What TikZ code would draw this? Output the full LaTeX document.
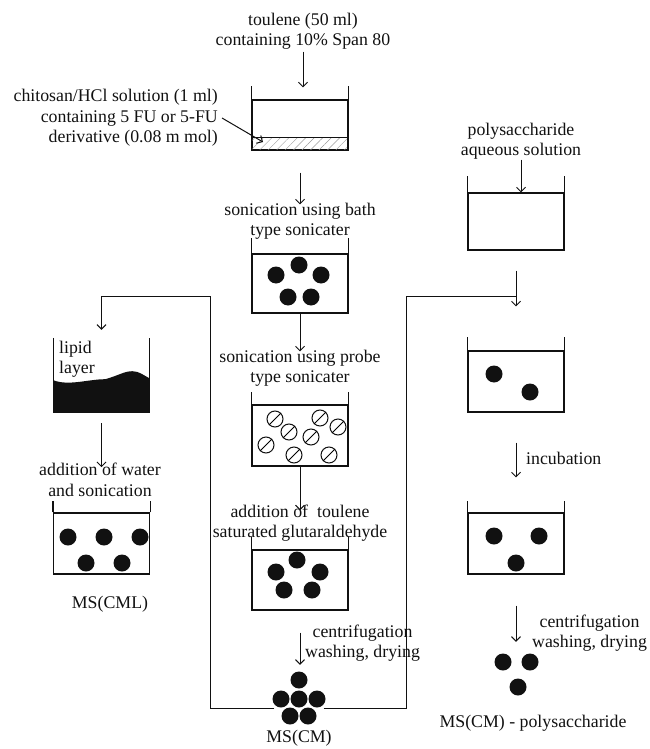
\documentclass[tikz,border=0pt]{standalone}
\usepackage{fontspec}
\setmainfont{Liberation Serif}
\usepackage{tikz}
\usepackage{xcolor}
\usetikzlibrary{arrows.meta,positioning,calc,patterns.meta}
\definecolor{ink}{HTML}{111111}
\definecolor{hatch}{HTML}{9A9A9A}
\tikzset{
  proc/.style={
    font=\fontsize{17.8}{20.5}\selectfont, text=ink,
    align=center, inner sep=0pt
  },
  tank/.style={
    draw=ink, line width=1.1pt, inner sep=0pt,
    minimum width=96pt
  },
  wall/.style={draw=ink, line width=1.1pt},
  bead/.style={circle, fill=ink, inner sep=0pt, minimum size=17pt},
  droplet/.style={circle, draw=ink, line width=1pt, inner sep=0pt, minimum size=16pt},
  flow/.style={draw=ink, line width=1pt, ->},
  heap/.style={inner sep=0pt, minimum width=57pt, minimum height=54pt}
}
\newcommand\tankrim[2]{\draw[wall] (#1.north west) -- ++(0,-#2) (#1.north east) -- ++(0,-#2);}

\begin{document}
\begin{tikzpicture}[x=1pt,y=-1pt,>={Straight Barb[length=4.5pt,width=9pt]}]
  \useasboundingbox (0,0) rectangle (649,749);
  % centre column
  \node[proc] (tol) at (303,31) {toulene (50 ml)\\containing 10\% Span 80};
  \node[tank,minimum height=50pt] (b1) at (300,125) {};
  \tankrim{b1}{13}
  \draw[wall,pattern={Lines[angle=45,distance=6pt,line width=0.4pt]},pattern color=hatch]
    (b1.south west) rectangle ++(96,-13);
  \node[proc,anchor=east,align=right] (chi) at (218,118)
    {chitosan/HCl solution (1 ml)\\containing 5 FU or 5-FU\\derivative (0.08 m mol)};
  \coordinate (layer) at (263,142);
  \draw[flow] ([xshift=4pt]chi.east) -- (layer);
  \draw[flow,shorten <=2pt,shorten >=12pt] (tol.south) -- (tol.south |- b1.north);

  \node[proc] (bath) at (300,221) {sonication using bath\\type sonicater};
  \draw[flow,shorten <=22pt,shorten >=-2pt] (b1.south) -- (bath.north);
  \node[tank,minimum height=59pt] (b2) at (300,283.5) {};
  \tankrim{b2}{15}
  \foreach \x/\y [count=\i] in {276/275,299/265,321/275,288/297,311/297}
    \node[bead] (b2d\i) at (\x,\y) {};

  \node[proc] (probe) at (300,368) {sonication using probe\\type sonicater};
  \draw[flow,shorten >=-2pt] (b2.south) -- (probe.north);
  \node[tank,minimum height=61pt] (b3) at (300,435.5) {};
  \tankrim{b3}{12}
  \foreach \x/\y [count=\i] in {275/419,289/432,320/418,338/427,311/437,266/445,294/455,329/455} {
    \node[droplet] (e\i) at (\x,\y) {};
    \draw[line width=1pt] (e\i.south west) -- (e\i.north east);
  }

  \node[proc] (glut) at (300,523) {addition of\ \ toulene\\saturated glutaraldehyde};
  \draw[flow,shorten >=-6pt] (b3.south) -- (glut.north);
  \node[tank,minimum height=60pt] (b4) at (300,580) {};
  \tankrim{b4}{12}
  \foreach \x/\y [count=\i] in {297/560,276/572,320/572,284/590,312/590}
    \node[bead] (b4d\i) at (\x,\y) {};

  \node[heap] (cm) at (299,698) {};
  \foreach \x/\y [count=\i] in {299/680,281/699,299/699,317/699,290/716,308/716}
    \node[bead] (cmd\i) at (\x,\y) {};
  \draw[flow,shorten <=22pt,shorten >=6pt] (b4.south) -- (b4.south |- cm.north);
  \node[proc,anchor=west] (cent1) at (305,643) {centrifugation\\washing, drying};
  \node[proc] (mscm) at (299,738) {MS(CM)};

  % left column
  \node[inner sep=0pt,minimum width=96pt,minimum height=74pt] (lip) at (101.5,375) {};
  \fill[ink] (lip.south west) -- ++(0,-32)
    .. controls ++(15,6) and ++(-17,0) .. ++(52,-1)
    .. controls ++(14,-4) and ++(-8,0) .. ++(27,-8)
    .. controls ++(7,0) and ++(-6,-3) .. ++(17,7)
    |- (lip.south west) -- cycle;
  \draw[wall] (lip.north west) -- (lip.south west) -- (lip.south east) -- (lip.north east);
  \node[proc,anchor=west,align=left] (lipid) at (59,359) {lipid\\layer};
  \node[proc] (water) at (100,480) {addition of water\\and sonication};
  \draw[flow,shorten <=11pt,shorten >=-4pt] (lip.south) -- (lip.south |- water.north);
  \node[tank,minimum height=61pt] (b6) at (101.5,543.5) {};
  \tankrim{b6}{11}
  \foreach \x/\y [count=\i] in {68/537,104/537,140/537,86/563,122/563}
    \node[bead] (b6d\i) at (\x,\y) {};
  \node[proc] (mscml) at (110,604) {MS(CML)};

  % right column
  \node[proc] (poly) at (521,141) {polysaccharide\\aqueous solution};
  \node[tank,minimum height=57pt] (p1) at (516,221.5) {};
  \tankrim{p1}{16}
  \draw[flow] (poly.south) -- (poly.south |- p1.north);
  \node[tank,minimum height=61pt] (p2) at (516,381.5) {};
  \tankrim{p2}{13}
  \foreach \x/\y [count=\i] in {494/374,530/392}
    \node[bead] (p2d\i) at (\x,\y) {};
  \draw[flow,shorten <=20pt,shorten >=44pt] (p1.south) -- (p2.north);
  \node[tank,minimum height=61pt] (p3) at (516,543.5) {};
  \tankrim{p3}{11}
  \foreach \x/\y [count=\i] in {494/536,539/536,516/563}
    \node[bead] (p3d\i) at (\x,\y) {};
  \draw[flow,shorten <=30pt,shorten >=35pt] (p2.south) -- (p3.north);
  \node[proc,anchor=west] (incub) at (526,458) {incubation};
  \node[inner sep=0pt,minimum size=44pt] (pcm) at (516,674) {};
  \foreach \x/\y [count=\i] in {503/662,530/662,518/687}
    \node[bead] (pcmd\i) at (\x,\y) {};
  \draw[flow,shorten <=31pt,shorten >=10pt] (p3.south) -- (p3.south |- pcm.north);
  \node[proc,anchor=west] (cent2) at (532,633) {centrifugation\\washing, drying};
  \node[proc] (mspoly) at (533,723) {MS(CM) - polysaccharide};

  % return lines from MS(CM)
  \coordinate (jl) at (210,296);
  \coordinate (jr) at (406,296);
  \draw[flow,shorten >=8pt] ($(cm.west)+(4,10)$) -| (jl) -| (lip.north);
  \draw[wall,line width=1pt] ($(cm.east)+(-4,10)$) -| (jr) -- (jr -| p1.south);
\end{tikzpicture}
\end{document}
